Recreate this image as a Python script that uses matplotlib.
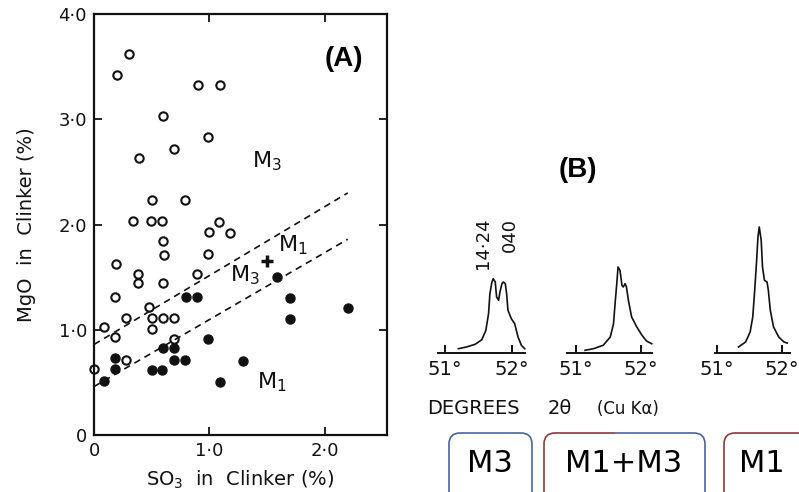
import matplotlib.pyplot as plt
from matplotlib.patches import FancyBboxPatch, Rectangle

W, H = 799, 492
fig = plt.figure(figsize=(W / 100, H / 100), dpi=100)
plt.rcParams['font.family'] = ['DejaVu Sans']

# (A) MgO vs SO3 in clinker
open_x = [0.20, 0.30, 0.90, 1.09, 0.60, 0.99, 0.69, 0.39, 0.50, 0.79, 0.34, 0.49,
          0.59, 1.00, 1.08, 1.18, 0.60, 0.61, 0.99, 0.19, 0.38, 0.89, 0.38, 0.60,
          0.18, 0.28, 0.48, 0.50, 0.60, 0.69, 0.50, 0.09, 0.18, 0.69, 0.00, 0.28]
open_y = [3.42, 3.62, 3.33, 3.33, 3.03, 2.83, 2.72, 2.63, 2.23, 2.23, 2.03, 2.03,
          2.03, 1.93, 2.02, 1.92, 1.84, 1.71, 1.72, 1.62, 1.53, 1.53, 1.44, 1.44,
          1.31, 1.11, 1.22, 1.11, 1.11, 1.11, 1.01, 1.03, 0.93, 0.91, 0.63, 0.71]
filled_x = [0.80, 0.89, 0.99, 0.18, 0.18, 0.09, 0.60, 0.69, 0.50, 0.59, 0.69, 0.79,
            1.09, 1.29, 1.59, 1.70, 1.70, 2.20]
filled_y = [1.31, 1.31, 0.91, 0.73, 0.63, 0.51, 0.83, 0.83, 0.62, 0.62, 0.71, 0.71,
            0.50, 0.70, 1.50, 1.30, 1.10, 1.21]
plus_x = [1.50]
plus_y = [1.65]
bound_x = [0.0, 2.2]
upper_y = [0.86, 2.30]
lower_y = [0.46, 1.86]

x_ticks = [0, 1, 2]
x_labels = ['0', '1·0', '2·0']
y_ticks = [0, 1, 2, 3, 4]
y_labels = ['0', '1·0', '2·0', '3·0', '4·0']

# (B) XRD peak profiles, degrees 2-theta vs intensity
m3_deg = [51.20, 51.32, 51.45, 51.55, 51.61, 51.65, 51.67, 51.70, 51.72, 51.75, 51.77,
          51.80, 51.82, 51.85, 51.87, 51.90, 51.92, 51.94, 51.99, 52.04, 52.09, 52.14, 52.19]
m3_int = [4.3, 6.0, 8.7, 13.3, 22.7, 39.3, 59.3, 71.0, 74.3, 71.0, 56.0,
          52.7, 61.0, 69.3, 71.0, 69.3, 59.3, 42.7, 34.3, 29.3, 16.0, 7.7, 4.3]
mix_deg = [51.14, 51.27, 51.42, 51.53, 51.58, 51.60, 51.63, 51.65, 51.68, 51.71, 51.73,
           51.76, 51.78, 51.81, 51.86, 51.94, 52.02, 52.09, 52.17]
mix_int = [2.7, 4.3, 7.7, 16.0, 29.3, 46.0, 69.3, 86.0, 82.7, 67.7, 66.0,
           69.3, 66.0, 52.7, 36.0, 26.0, 17.7, 12.0, 9.3]
m1_deg = [51.33, 51.44, 51.51, 51.55, 51.58, 51.61, 51.63, 51.65, 51.68, 51.70, 51.73,
          51.77, 51.79, 51.82, 51.87, 51.95, 52.03, 52.08]
m1_int = [6.0, 11.0, 21.0, 36.0, 62.7, 92.7, 116.0, 126.0, 112.7, 86.0, 72.7,
          71.0, 62.7, 42.7, 26.0, 16.0, 11.0, 10.0]
deg_ticks = [51, 52]
deg_labels = ['51°', '52°']


def px_axes(left, top, width, height):
    return fig.add_axes([left / W, (H - top - height) / H, width / W, height / H])


ink = '#111111'

# ---- panel A ----
ax = px_axes(94, 14, 293, 421)
ax.plot(open_x, open_y, 'o', ms=6, mfc='white', mec=ink, mew=1.5, clip_on=False)
ax.plot(filled_x, filled_y, 'o', ms=6.5, color=ink)
ax.plot(plus_x, plus_y, '+', ms=9, mew=2.5, color=ink)
ax.plot(bound_x, upper_y, color=ink, lw=1.2, ls=(0, (4, 3)))
ax.plot(bound_x, lower_y, color=ink, lw=1.2, ls=(0, (4, 3)))
ax.set_xlim(0, 2.54)
ax.set_ylim(0, 4.0)
ax.set_xticks(x_ticks, x_labels)
ax.set_yticks(y_ticks, y_labels)
ax.tick_params(direction='in', length=6, width=1.3, labelsize=13, colors=ink,
               top=True, right=True, pad=5)
for s in ax.spines.values():
    s.set_linewidth(1.6)
    s.set_color(ink)
ax.set_xlabel('SO$_{\\mathregular{3}}$  in  Clinker (%)', fontsize=14, color=ink, labelpad=6)
ax.set_ylabel('MgO  in  Clinker (%)', fontsize=14, color=ink, labelpad=16)

ax.text(1.50, 2.60, 'M$_{\\mathregular{3}}$', fontsize=16, ha='center', va='center', color=ink)
ax.text(1.72, 1.80, 'M$_{\\mathregular{1}}$', fontsize=16, ha='center', va='center', color=ink)
ax.text(1.31, 1.52, 'M$_{\\mathregular{3}}$', fontsize=16, ha='center', va='center', color=ink)
ax.text(1.54, 0.50, 'M$_{\\mathregular{1}}$', fontsize=16, ha='center', va='center', color=ink)
ax.text(2.17, 3.57, '(A)', fontsize=20, fontweight='bold', family='Liberation Sans',
        ha='center', va='center', color='black')

# ---- panel B ----
peaks = [
    (m3_deg, m3_int, (434.95, 93.8), (50.85, 52.25), (50.90, 52.19)),
    (mix_deg, mix_int, (563.06, 93.8), (50.80, 52.25), (50.86, 52.17)),
    (m1_deg, m1_int, (710.5, 87.75), (50.90, 52.25), (50.97, 52.13)),
]
peak_axes = []
for deg, inten, (left, width), xlim, base in peaks:
    pa = px_axes(left, 223, width, 130)
    pa.plot(deg, inten, color=ink, lw=1.2)
    pa.set_xlim(*xlim)
    pa.set_ylim(0, 130)
    for side in ('left', 'right', 'top'):
        pa.spines[side].set_visible(False)
    pa.spines['bottom'].set_bounds(*base)
    pa.spines['bottom'].set_linewidth(1.4)
    pa.spines['bottom'].set_color(ink)
    pa.set_yticks([])
    pa.set_xticks(deg_ticks, deg_labels)
    pa.tick_params(axis='x', direction='in', length=6, width=1.4, labelsize=14,
                   colors=ink, pad=5)
    pa.patch.set_visible(False)
    peak_axes.append(pa)

peak_axes[0].text(51.57, 110, '14·24', rotation=90, fontsize=13, ha='center',
                  va='center', color=ink)
peak_axes[0].text(51.97, 118, '040', rotation=90, fontsize=13, ha='center',
                  va='center', color=ink)

# overlay in pixel units for the panel B captions and boxes
ov = fig.add_axes([0, 0, 1, 1])
ov.set_xlim(0, W)
ov.set_ylim(H, 0)
ov.axis('off')
ov.patch.set_visible(False)

ov.text(578, 170, '(B)', fontsize=20, fontweight='bold', family='Liberation Sans',
        ha='center', va='center', color='black')
ov.text(427, 409, 'DEGREES', fontsize=14, ha='left', va='center', color=ink)
ov.text(548, 409, '2θ', fontsize=14, ha='left', va='center', color=ink)
ov.text(597, 409, '(Cu Kα)', fontsize=12, ha='left', va='center', color=ink)

blue = '#4a64a0'
red = '#8c3b3b'


def label_box(x0, x1, edge, clip=None):
    box = FancyBboxPatch((x0, 433), x1 - x0, 80, boxstyle='round,pad=0,rounding_size=11',
                         fc='none', ec=edge, lw=1.2)
    ov.add_patch(box)
    if clip is not None:
        box.set_clip_path(Rectangle((clip[0], 400), clip[1] - clip[0], 120,
                                    transform=ov.transData))
    return box


label_box(449, 532, blue)
label_box(544, 705, red, clip=(530, 615))
label_box(544, 705, blue, clip=(615, 720))
label_box(724, 840, red)

ov.text(490, 464, 'M3', fontsize=22, ha='center', va='center', color='black')
ov.text(624, 464, 'M1+M3', fontsize=22, ha='center', va='center', color='black')
ov.text(762, 464, 'M1', fontsize=22, ha='center', va='center', color='black')

fig.savefig('out.png', dpi=100)
